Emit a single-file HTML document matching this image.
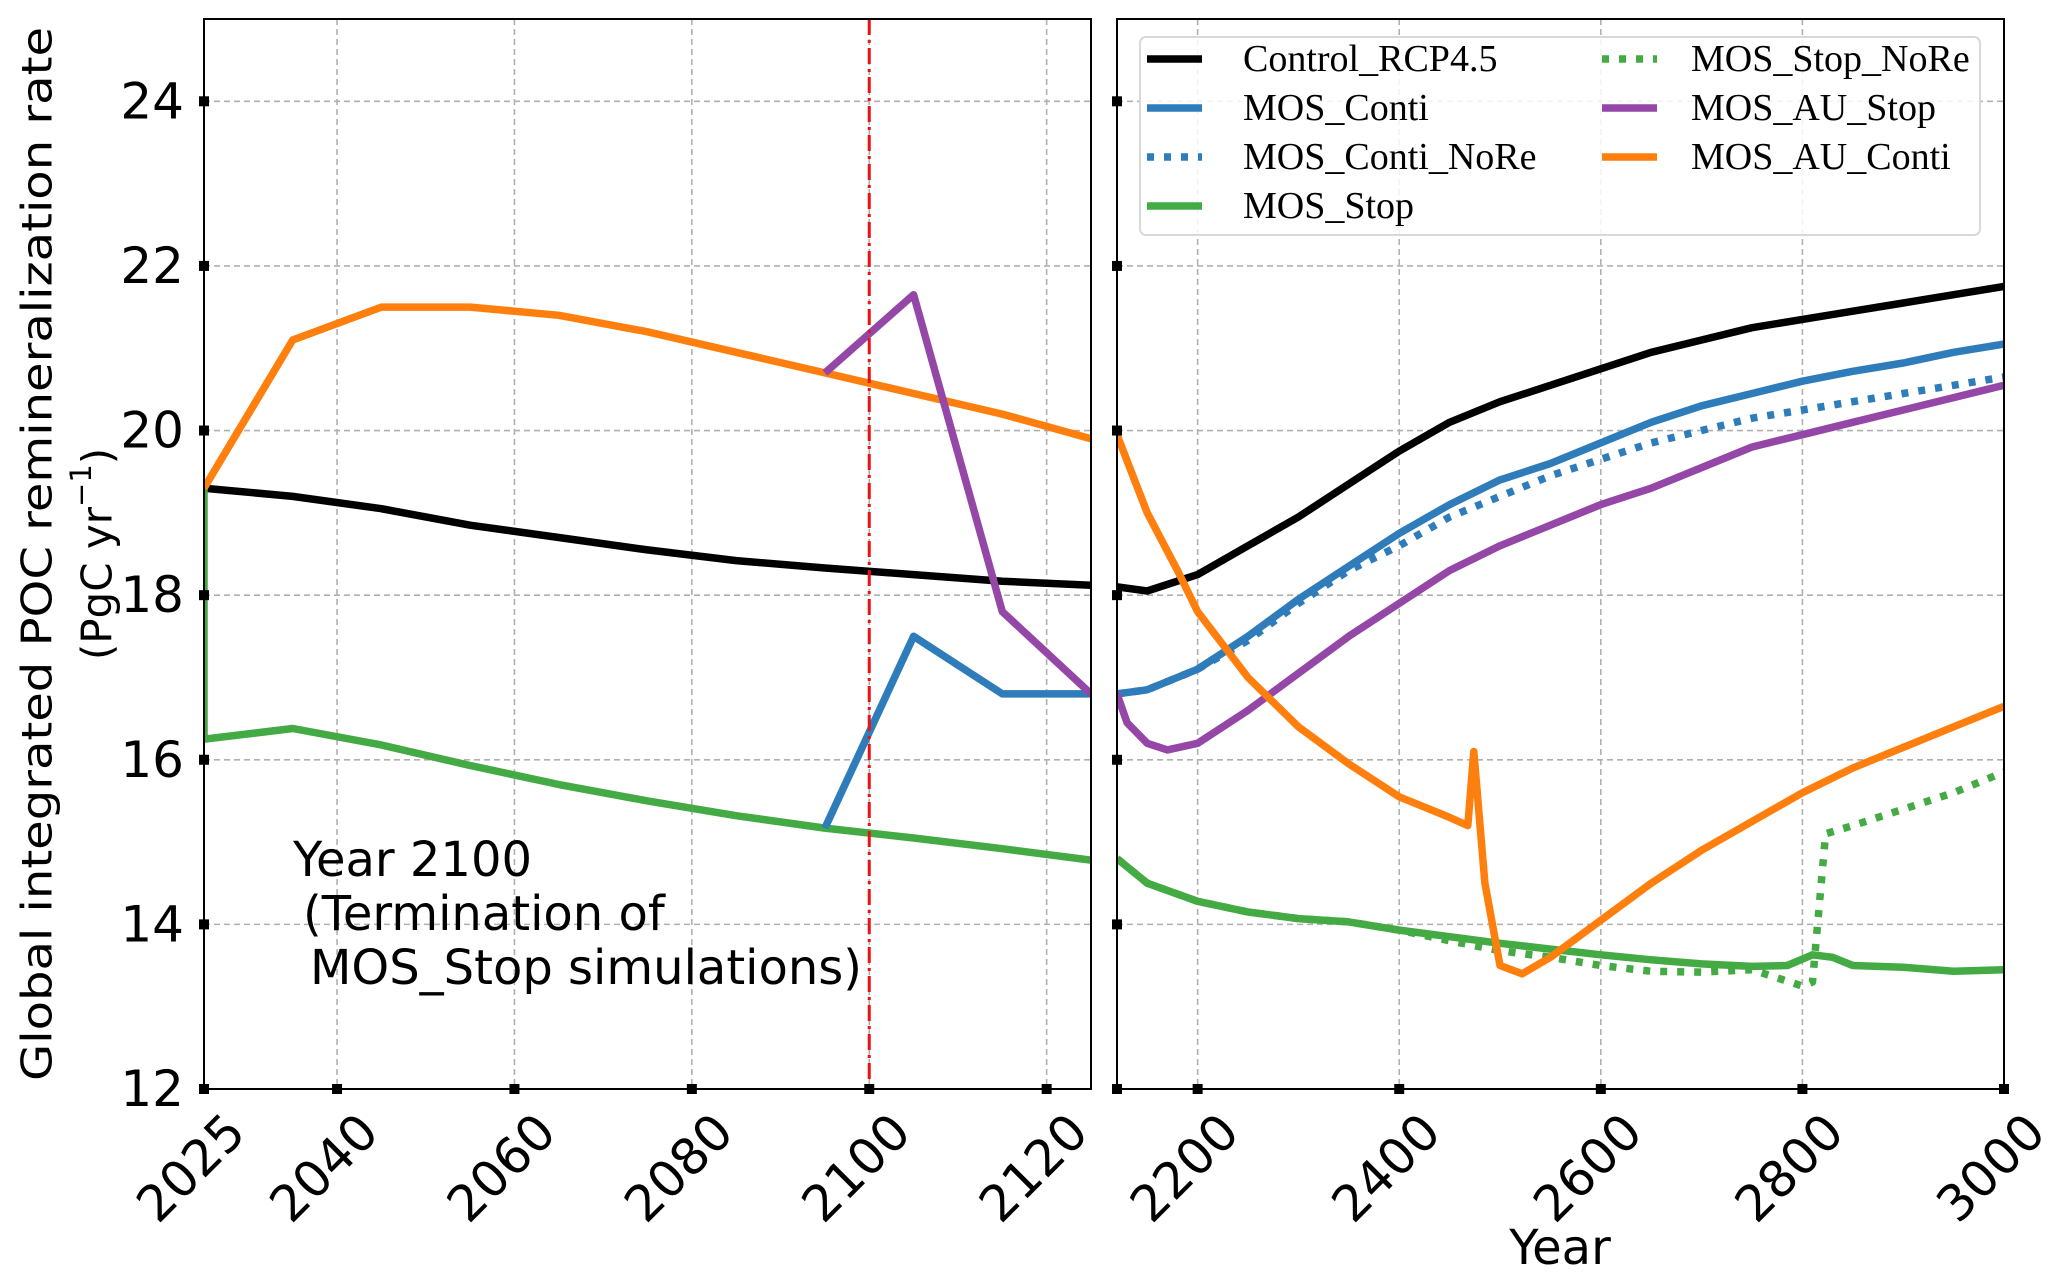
<!DOCTYPE html>
<html><head><meta charset="utf-8"><style>
html,body{margin:0;padding:0;background:#fff}
svg{display:block}
text{font-family:"DejaVu Sans","Liberation Sans",sans-serif;fill:#000}
.lg{font-family:"Liberation Serif","DejaVu Serif",serif}
</style></head><body>
<svg id="chart" width="2067" height="1281" viewBox="0 0 2067 1281">
<g id="gl"></g>
<g id="gr"></g>
<text x="37" y="554" font-size="42" text-anchor="middle" dominant-baseline="central" transform="rotate(-90 37 554)" textLength="1054" lengthAdjust="spacingAndGlyphs">Global integrated POC remineralization rate</text>
<text x="97" y="554" font-size="42" text-anchor="middle" dominant-baseline="central" transform="rotate(-90 97 554)">(PgC yr<tspan dy="-16" font-size="29">−1</tspan><tspan dy="16">)</tspan></text>
<text x="1560" y="1264" font-size="48" text-anchor="middle">Year</text>
<g font-size="48">
<text x="293" y="876">Year 2100</text>
<text x="303" y="930">(Termination of</text>
<text x="310" y="984">MOS_Stop simulations)</text>
</g>
<g id="legend"></g>
</svg>
<script>
const yTicks=[12,14,16,18,20,22,24];
const leftXTicks=[2025,2040,2060,2080,2100,2120];
const rightXTicks=[2200,2400,2600,2800,3000];
// left panel data
const lYears=[2025,2035,2045,2055,2065,2075,2085,2095,2105,2115,2125];
const lControl=[19.3,19.2,19.05,18.85,18.7,18.55,18.42,18.33,18.25,18.17,18.12];
const lAUConti=[19.3,21.1,21.5,21.5,21.4,21.2,20.95,20.7,20.45,20.2,19.9];
const lStopYears=[2025,2025,2035,2045,2055,2065,2075,2085,2095,2105,2115,2125];
const lStop=[19.3,16.25,16.38,16.18,15.93,15.7,15.5,15.32,15.17,15.05,14.92,14.78];
const lBranchYears=[2095,2105,2115,2125];
const lConti=[15.17,17.5,16.8,16.8];
const lAUStop=[20.7,21.65,17.8,16.8];
// right panel data
const rYears=[2120,2150,2200,2250,2300,2350,2400,2450,2500,2550,2600,2650,2700,2750,2800,2850,2900,2950,3000];
const rControl=[18.1,18.05,18.25,18.6,18.95,19.35,19.75,20.1,20.35,20.55,20.75,20.95,21.1,21.25,21.35,21.45,21.55,21.65,21.75];
const rConti=[16.8,16.85,17.1,17.5,17.95,18.35,18.75,19.1,19.4,19.6,19.85,20.1,20.3,20.45,20.6,20.72,20.82,20.95,21.05];
const rContiNoRe=[16.8,16.85,17.1,17.45,17.9,18.3,18.6,18.95,19.2,19.45,19.65,19.85,20.0,20.15,20.25,20.35,20.45,20.55,20.65];
const rAUStopYears=[2120,2130,2150,2170,2200,2250,2300,2350,2400,2450,2500,2550,2600,2650,2700,2750,2800,2850,2900,2950,3000];
const rAUStop=[16.8,16.45,16.2,16.12,16.2,16.6,17.05,17.5,17.9,18.3,18.6,18.85,19.1,19.3,19.55,19.8,19.95,20.1,20.25,20.4,20.55];
const rAUContiYears=[2120,2150,2180,2200,2250,2300,2350,2400,2450,2468,2474,2485,2500,2522,2550,2600,2650,2700,2750,2800,2850,2900,2950,3000];
const rAUConti=[19.95,19.0,18.3,17.8,17.0,16.4,15.95,15.55,15.3,15.2,16.1,14.5,13.5,13.4,13.6,14.05,14.5,14.9,15.25,15.6,15.9,16.15,16.4,16.65];
const rStopYears=[2120,2150,2200,2250,2300,2350,2400,2450,2500,2550,2600,2650,2700,2750,2785,2810,2830,2850,2900,2950,3000];
const rStop=[14.8,14.5,14.28,14.15,14.07,14.03,13.93,13.85,13.77,13.7,13.63,13.57,13.52,13.49,13.5,13.63,13.6,13.5,13.48,13.43,13.45];
const rStopNoReYears=[2120,2150,2200,2250,2300,2350,2400,2450,2500,2550,2600,2650,2700,2750,2800,2810,2823,2850,2900,2950,3000];
const rStopNoRe=[14.8,14.5,14.28,14.15,14.07,14.03,13.93,13.8,13.68,13.6,13.5,13.43,13.42,13.45,13.25,13.3,15.1,15.2,15.4,15.6,15.85];

const NS="http://www.w3.org/2000/svg";
const Y0=1089,Y1=19;
const y=v=>Y0-(v-12)*(Y0-Y1)/13;
const L={x0:204,x1:1091,d0:2025,d1:2125};
const R={x0:1117,x1:2004,d0:2120,d1:3000};
const sx=(p,v)=>p.x0+(v-p.d0)*(p.x1-p.x0)/(p.d1-p.d0);
function mk(parent,tag,attrs){const e=document.createElementNS(NS,tag);for(const k in attrs)e.setAttribute(k,attrs[k]);parent.appendChild(e);return e;}
const C={black:"#000",blue:"#2f7cbb",green:"#44aa44",purple:"#9447a6",orange:"#ff7f0e"};

function panel(g,p,xt,showY,pid){
  mk(g,"rect",{x:p.x0,y:Y1,width:p.x1-p.x0,height:Y0-Y1,fill:"#fff"});
  yTicks.forEach(t=>{const l=mk(g,"line",{x1:p.x0,x2:p.x1,y1:y(t),y2:y(t),stroke:"#b0b0b0","stroke-width":1.6,"stroke-dasharray":"6,4"});
    
    });
  xt.forEach(t=>{const l=mk(g,"line",{x1:sx(p,t),x2:sx(p,t),y1:Y1,y2:Y0,stroke:"#b0b0b0","stroke-width":1.6,"stroke-dasharray":"6,4"});
    
    });
  const clip=mk(g,"clipPath",{id:"c"+pid});mk(clip,"rect",{x:p.x0,y:Y1,width:p.x1-p.x0,height:Y0-Y1});
  const s=mk(g,"g",{"clip-path":"url(#c"+pid+")"});
  
  
  return s;
}
function axes(g,p,xt,showY){
  mk(g,"rect",{x:p.x0,y:Y1,width:p.x1-p.x0,height:Y0-Y1,fill:"none",stroke:"#000","stroke-width":2});
  yTicks.forEach(t=>{const m=mk(g,"rect",{x:p.x0-5,y:y(t)-5,width:10,height:10,fill:"#000"});
    
    
    if(showY){const tx=mk(g,"text",{x:p.x0-20,y:y(t),"font-size":50,"text-anchor":"end","dominant-baseline":"central"});tx.textContent=t;
      
      }});
  const xs=[p.d0].concat(xt.filter(t=>t!==p.d0));
  xs.forEach(t=>{const m=mk(g,"rect",{x:sx(p,t)-5,y:Y0-5,width:10,height:10,fill:"#000"});
    
    });
  xt.forEach(t=>{const X=sx(p,t)+44,YY=Y0+46;const tx=mk(g,"text",{x:X,y:YY,"font-size":50,"text-anchor":"end",transform:`rotate(-45 ${X} ${YY})`});tx.textContent=t;
    
    });
}
function line(g,p,xs,ys,color,dash,name){
  const d=xs.map((v,i)=>(i?"L":"M")+sx(p,v).toFixed(1)+","+y(ys[i]).toFixed(1)).join("");
  const a={d,fill:"none",stroke:color,"stroke-width":7.5,"stroke-linejoin":"round"};
  if(dash)a["stroke-dasharray"]=dash;
  const e=mk(g,"path",a);
  
  
}
const gl=document.getElementById("gl"),gr=document.getElementById("gr");
const sl=panel(gl,L,leftXTicks,true,"l");
line(sl,L,lYears,lControl,C.black,null,"line-control-rcp45-left");
line(sl,L,lStopYears,lStop,C.green,null,"line-mos-stop-left");
line(sl,L,lBranchYears,lConti,C.blue,null,"line-mos-conti-left");
line(sl,L,lYears,lAUConti,C.orange,null,"line-mos-au-conti-left");
line(sl,L,lBranchYears,lAUStop,C.purple,null,"line-mos-au-stop-left");
const vx=sx(L,2100);
const vl=mk(sl,"line",{x1:vx,x2:vx,y1:Y1,y2:Y0,stroke:"#ee1111","stroke-width":3,"stroke-dasharray":"16,5,3,5"});


axes(gl,L,leftXTicks,true);

const sr=panel(gr,R,rightXTicks,false,"r");
line(sr,R,rYears,rControl,C.black,null,"line-control-rcp45");
line(sr,R,rYears,rConti,C.blue,null,"line-mos-conti");
line(sr,R,rYears,rContiNoRe,C.blue,"7,10","line-mos-conti-nore");
line(sr,R,rStopYears,rStop,C.green,null,"line-mos-stop");
line(sr,R,rStopNoReYears,rStopNoRe,C.green,"7,10","line-mos-stop-nore");
line(sr,R,rAUStopYears,rAUStop,C.purple,null,"line-mos-au-stop");
line(sr,R,rAUContiYears,rAUConti,C.orange,null,"line-mos-au-conti");
axes(gr,R,rightXTicks,false);

// legend
const lg=document.getElementById("legend");
mk(lg,"rect",{x:1140,y:37,width:840,height:198,rx:6,fill:"#fff","fill-opacity":0.85,stroke:"#d8d8d8","stroke-width":2});
const legNames=["Control_RCP4.5","MOS_Conti","MOS_Conti_NoRe","MOS_Stop","MOS_Stop_NoRe","MOS_AU_Stop","MOS_AU_Conti"];
const legColors=[C.black,C.blue,C.blue,C.green,C.green,C.purple,C.orange];
const legDash=[null,null,"7,10",null,"7,10",null,null];
legNames.forEach((n,i)=>{
  const col=i<4?0:1,row=i<4?i:i-4;
  const lx=col?1602:1147,tx=col?1691:1243,yy=59+row*49;
  const e=mk(lg,"g",{});
  
  
  const a={x1:lx,x2:lx+55,y1:yy,y2:yy,stroke:legColors[i],"stroke-width":7.5};
  if(legDash[i])a["stroke-dasharray"]=legDash[i];
  mk(e,"line",a);
  const t=mk(e,"text",{x:tx,y:yy,"font-size":38,"dominant-baseline":"central",class:"lg"});
  t.textContent=n;
});
</script>
</body></html>
